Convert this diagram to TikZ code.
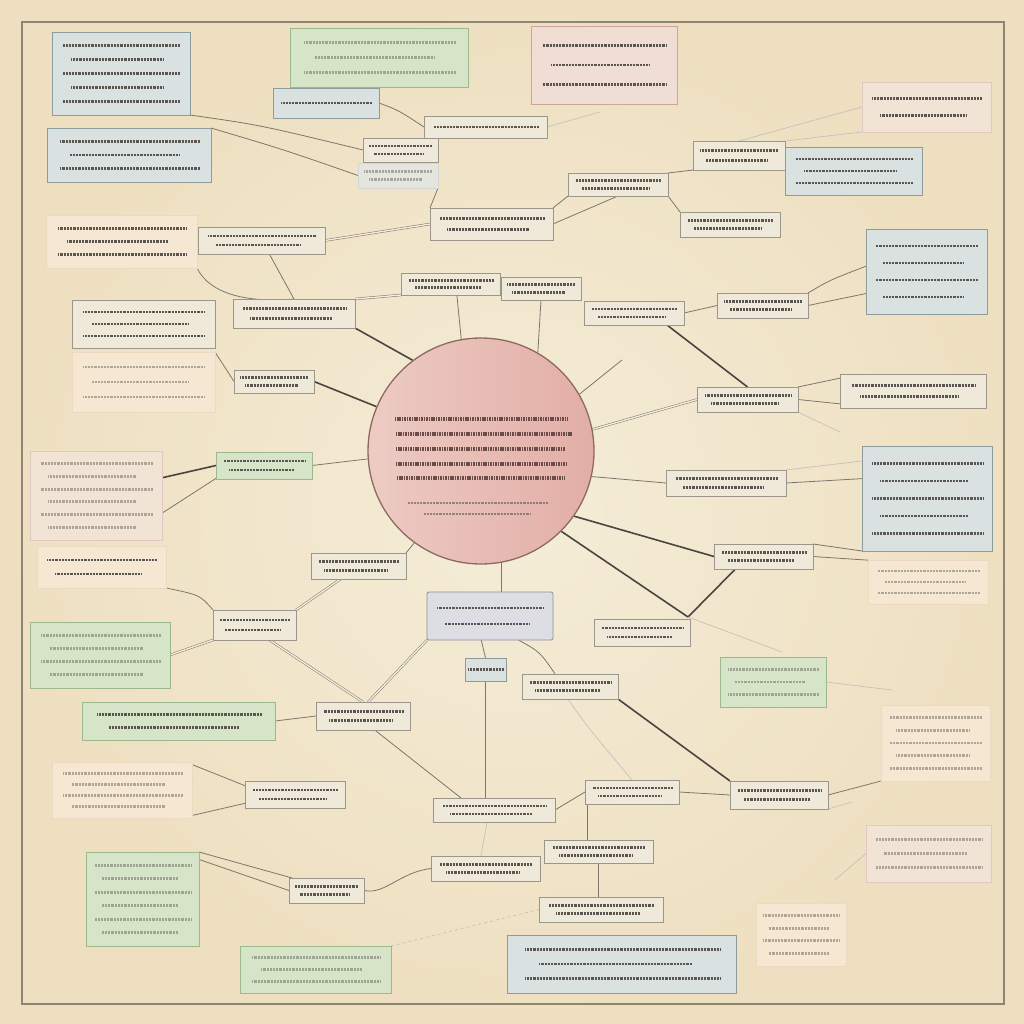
\documentclass[tikz,border=0pt]{standalone}
\usetikzlibrary{calc}
\pgfdeclarelayer{back}
\pgfdeclarelayer{links}
\pgfsetlayers{back,links,main}
\definecolor{bg}{HTML}{F5EDD8}
\definecolor{bgedge}{HTML}{EEDFC0}
\definecolor{framec}{HTML}{8E8573}
\definecolor{bluef}{HTML}{D9E2E0}\definecolor{blued}{HTML}{8D9C9B}
\definecolor{greenf}{HTML}{D6E5C7}\definecolor{greend}{HTML}{9DB88D}
\definecolor{pinkf}{HTML}{F0DDD3}\definecolor{pinkd}{HTML}{CDA59B}
\definecolor{peachf}{HTML}{F5E3CD}\definecolor{peachd}{HTML}{E6C7A7}
\definecolor{plainf}{HTML}{EFE9DA}\definecolor{plaind}{HTML}{9B958A}
\definecolor{mainf}{HTML}{DCDEE4}\definecolor{maind}{HTML}{8E8F99}
\definecolor{lnk}{HTML}{7C766C}
\definecolor{lnkd}{HTML}{4A4540}
\definecolor{txtc}{HTML}{5A5550}
\definecolor{circl}{HTML}{EDCBC3}\definecolor{circr}{HTML}{E2AEA7}\definecolor{circd}{HTML}{8C6A62}
\tikzset{
  box/.style={draw, rectangle, inner sep=0pt, outer sep=0pt, line width=0.8pt},
  bl/.style={fill=bluef, draw=blued},
  gr/.style={fill=greenf, draw=greend},
  pk/.style={fill=pinkf, draw=pinkd},
  pc/.style={fill=peachf, draw=peachd},
  pcf/.style={fill=peachf!55!bg, draw=peachd!70},
  pkf/.style={fill=pinkf!55!bg, draw=pinkd!60},
  blf/.style={fill=bluef!60!bg, draw=blued!40},
  pl/.style={fill=plainf, draw=plaind},
  mn/.style={fill=mainf, draw=maind, rounded corners=2pt},
  txt/.style={draw=txtc, line width=2.8pt, dash pattern=on 1pt off 0.45pt},
  faintt/.style={opacity=0.45},
  ctxt/.style={draw=txtc!90!red, line width=4.2pt, dash pattern=on 1.1pt off 0.6pt},
  conn/.style={draw=lnk, line width=0.8pt},
  cdk/.style={draw=lnkd, line width=1.6pt},
  cf/.style={draw=lnk!45, line width=0.7pt},
  dbl/.style={draw=lnk, line width=0.5pt, double=bg, double distance=1.4pt},
}
\newcommand\bx[8]{%
  \node[box,#6,minimum width={(#4-#2)*1pt},minimum height={(#5-#3)*1pt}] (#1) at ({(#2+#4)/2},{(#3+#5)/2}) {};
  \foreach \i in {1,...,#7}{%
    \pgfmathsetmacro\yy{#3+(#5-#3)*\i/(#7+1)}%
    \pgfmathsetmacro\xa{#2+(#4-#2)*(0.08+0.06*mod(\i+1,2))}%
    \pgfmathsetmacro\xb{#4-(#4-#2)*(0.07+0.12*mod(\i+1,2))}%
    \draw[txt,#8] (\xa,\yy) -- (\xb,\yy);}%
}
\begin{document}
\begin{tikzpicture}[x=1pt,y=-1pt]
\useasboundingbox (0,0) rectangle (1024,1024);
\begin{pgfonlayer}{back}
  \shade[inner color=bg, outer color=bgedge] (0,0) rectangle (1024,1024);
  \draw[framec, line width=1.5pt] (22,22) rectangle (1004,1004);
\end{pgfonlayer}

% central circle
\node[circle, draw=circd, line width=1.3pt, minimum size=226pt, inner sep=0pt,
      left color=circl, right color=circr] (c) at (481,451) {};
\draw[ctxt] (395,419) -- (568,419);
\draw[ctxt] (396,434) -- (572,434);
\draw[ctxt] (396,449) -- (565,449);
\draw[ctxt] (396,464) -- (567,464);
\draw[ctxt] (397,478) -- (565,478);
\draw[txt, line width=2pt, opacity=0.6] (408,503) -- (548,503);
\draw[txt, line width=2pt, opacity=0.6] (424,514) -- (530,514);

% boxes
\bx{b1}{52}{32}{190}{115}{bl}{5}{}
\bx{b2}{47}{128}{211}{182}{bl}{3}{}
\bx{b3}{290}{28}{468}{87}{gr}{3}{faintt}
\bx{b4}{273}{88}{379}{118}{bl}{1}{}
\bx{b5}{531}{26}{677}{104}{pk}{3}{}
\bx{b6}{862}{82}{991}{132}{pkf}{2}{}
\bx{b7}{424}{116}{547}{138}{pl}{1}{}
\bx{b8}{363}{138}{438}{162}{pl}{2}{}
\bx{b8a}{358}{163}{438}{188}{blf}{2}{faintt}
\bx{b9}{693}{141}{785}{170}{pl}{2}{}
\bx{b10}{785}{147}{922}{195}{bl}{3}{}
\bx{b11}{568}{173}{668}{196}{pl}{2}{}
\bx{b12}{430}{208}{553}{240}{pl}{2}{}
\bx{b13}{680}{212}{780}{237}{pl}{2}{}
\bx{b14}{866}{229}{987}{314}{bl}{4}{}
\bx{b15}{46}{215}{197}{268}{pcf}{3}{}
\bx{b16}{198}{227}{325}{254}{pl}{2}{}
\bx{b17}{401}{273}{500}{295}{pl}{2}{}
\bx{b18}{501}{277}{581}{300}{pl}{2}{}
\bx{b19}{584}{301}{684}{325}{pl}{2}{}
\bx{b20}{717}{293}{808}{318}{pl}{2}{}
\bx{b21}{233}{299}{355}{328}{pl}{2}{}
\bx{b22}{72}{300}{215}{348}{pl}{3}{}
\bx{b23}{72}{352}{215}{412}{pcf}{3}{faintt}
\bx{b24}{234}{370}{314}{393}{pl}{2}{}
\bx{b25}{697}{387}{798}{412}{pl}{2}{}
\bx{b26}{840}{374}{986}{408}{pl}{2}{}
\bx{b27}{30}{451}{162}{540}{pkf}{6}{faintt}
\bx{b28}{216}{452}{312}{479}{gr}{2}{}
\bx{b29}{862}{446}{992}{551}{bl}{5}{}
\bx{b30}{666}{470}{786}{496}{pl}{2}{}
\bx{b31}{37}{546}{166}{588}{pcf}{2}{}
\bx{b32}{311}{553}{406}{579}{pl}{2}{}
\bx{b33}{714}{544}{813}{569}{pl}{2}{}
\bx{b34}{868}{560}{988}{604}{pcf}{3}{faintt}
\bx{b35}{427}{592}{553}{640}{mn}{2}{}
\bx{b36}{213}{610}{296}{640}{pl}{2}{}
\bx{b37}{594}{619}{690}{646}{pl}{2}{}
\bx{b38}{30}{622}{170}{688}{gr}{4}{faintt}
\bx{b39}{465}{658}{506}{681}{bl}{1}{}
\bx{b40}{522}{674}{618}{699}{pl}{2}{}
\bx{b41}{720}{657}{826}{707}{gr}{3}{faintt}
\bx{b42}{881}{705}{990}{781}{pcf}{5}{faintt}
\bx{b43}{82}{702}{275}{740}{gr}{2}{}
\bx{b44}{316}{702}{410}{730}{pl}{2}{}
\bx{b45}{52}{762}{192}{818}{pcf}{4}{faintt}
\bx{b46}{245}{781}{345}{808}{pl}{2}{}
\bx{b47}{585}{780}{679}{804}{pl}{2}{}
\bx{b48}{730}{781}{828}{809}{pl}{2}{}
\bx{b49}{433}{798}{555}{822}{pl}{2}{}
\bx{b50}{866}{825}{991}{882}{pkf}{3}{faintt}
\bx{b51}{544}{840}{653}{863}{pl}{2}{}
\bx{b52}{431}{856}{540}{881}{pl}{2}{}
\bx{b53}{86}{852}{199}{946}{gr}{6}{faintt}
\bx{b54}{289}{878}{364}{903}{pl}{2}{}
\bx{b55}{539}{897}{663}{922}{pl}{2}{}
\bx{b56}{756}{903}{846}{966}{pcf}{4}{faintt}
\bx{b57}{240}{946}{391}{993}{gr}{3}{faintt}
\bx{b58}{507}{935}{736}{993}{bl}{3}{}

% free ends
\coordinate (f1) at (600,112);
\coordinate (f2) at (622,360);
\coordinate (f3) at (782,652);
\coordinate (f4) at (852,802);
\coordinate (f5) at (835,880);
\coordinate (f6) at (892,690);
\coordinate (f7) at (840,432);
\coordinate (j1) at (688,617);

\begin{pgfonlayer}{links}
% upper left
\draw[conn] (b1.south east) .. controls (260,125) .. (b8.west);
\draw[conn] (b2.north east) .. controls (285,150) .. (b8a.west);
\draw[conn] (b4.east) .. controls (398,110) .. (b7.west);
\draw[cf] (b7.east) -- (f1);
\draw[conn] (b8a.south east) -- (b12.north west);
\draw[dbl] (b16.east) -- (b12.west);
\draw[conn] (b12.north east) -- (b11.south west);
\draw[conn] (b12.east) -- (b11.south);
\draw[conn] (b11.north east) -- (b9.south west);
\draw[conn] (b11.south east) -- (b13.north west);
\draw[cf] (b9.north east) -- (b6.south west);
\draw[cf] (b9.north) -- (b6.west);
% left upper
\draw[conn] (b15.south east) .. controls (210,295) and (250,303) .. (b21.north);
\draw[conn] (b15.east) -- (b16.south west);
\draw[conn] (b16.-60) -- (b21.north);
\draw[dbl] (b21.north east) -- (b17.south west);
\draw[cdk] (b21.south east) -- (c.127);
\draw[conn] (b23.north east) -- (b24.west);
\draw[cdk] (b24.east) -- (c.157);
\draw[conn] (b17.-60) -- (c.100);
\draw[conn] (b18.south) -- (c.60);
% right upper
\draw[cdk] (b19.-20) -- (b25.north);
\draw[conn] (b19.east) -- (b20.west);
\draw[conn] (b20.east) -- (b14.-160);
\draw[conn] (b20.north east) .. controls (830,280) .. (b14.175);
\draw[conn] (c.30) -- (f2);
\draw[dbl] (c.11) -- (b25.west);
\draw[conn] (b25.east) -- (b26.-170);
\draw[conn] (b25.north east) -- (b26.170);
\draw[cf] (b25.south east) -- (f7);
\draw[conn] (c.-13) -- (b30.west);
\draw[conn] (b30.east) -- (b29.163);
\draw[cf] (b30.north east) -- (b29.150);
% right lower
\draw[cdk] (c.-35) -- (b33.west);
\draw[cdk] (c.-45) -- (j1);
\draw[cdk] (j1) -- (b33.-156);
\draw[cf] (j1) -- (f3);
\draw[conn] (b33.east) -- (b34.160);
\draw[conn] (b33.north east) -- (b29.south west);
\draw[cf] (b41.east) -- (f6);
% left middle
\draw[cdk] (b27.15) -- (b28.west);
\draw[conn] (b27.-15) -- (b28.-165);
\draw[conn] (b28.east) -- (c.184);
\draw[conn] (b32.north east) -- (c.234);
\draw[dbl] (b36.north east) -- (b32.-144);
\draw[conn] (b31.south east) .. controls (200,595) .. (b36.north west);
\draw[dbl] (b38.east) -- (b36.south west);
\draw[dbl] (b36.-45) -- (b44.north);
\draw[conn] (b43.east) -- (b44.west);
% below circle
\draw[dbl] (c.-80) -- (c.-80 |- b35.north);
\draw[dbl] (b35.south west) -- (b44.70);
\draw[conn] (b35.-110) -- (b39.north);
\draw[conn] (b35.-40) .. controls (540,652) .. (b40.140);
\draw[conn] (b39.south) -- (b39.south |- b49.north);
\draw[cdk] (b40.south east) -- (b48.north west);
\draw[cf] (b40.-100) .. controls (590,730) .. (b47.north);
\draw[conn] (b44.-50) -- (b49.160);
\draw[conn] (b45.20) -- (b46.170);
\draw[conn] (b45.-20) -- (b46.-170);
\draw[conn] (b49.east) -- (b47.west);
\draw[conn] (b47.east) -- (b48.west);
\draw[conn] (b48.east) -- (b42.south west);
\draw[cf] (b48.south east) -- (f4);
\draw[conn] (b47.-165) -- (b47.-165 |- b51.north);
\draw[conn] (b51.south) -- (b51.south |- b55.north);
\draw[cf] (b49.-120) -- (b52.110);
\draw[conn] (b52.west) .. controls (400,872) and (385,895) .. (b54.east);
\draw[conn] (b53.north east) -- (b54.160);
\draw[conn] (b53.35) -- (b54.west);
\draw[cf] (b50.west) -- (f5);
\draw[cf, dashed] (b57.north east) -- (b55.west);
\end{pgfonlayer}
\end{tikzpicture}
\end{document}
